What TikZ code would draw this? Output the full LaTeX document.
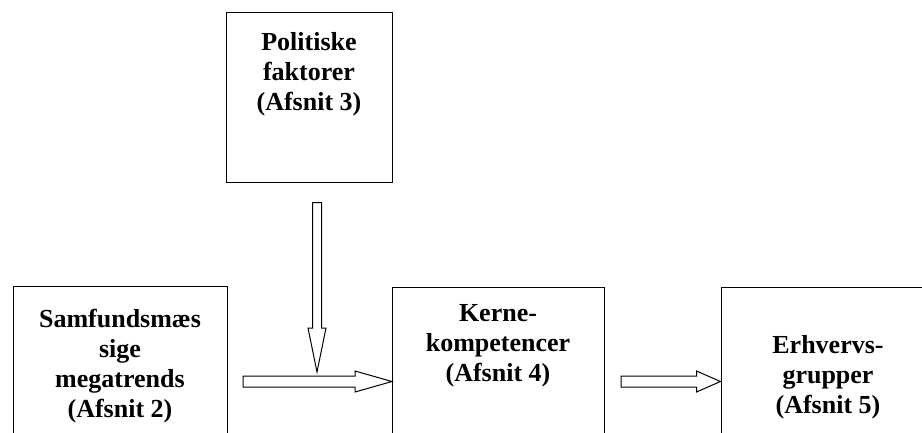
\documentclass[tikz,border=0pt]{standalone}
\usepackage{fontspec}
\setmainfont{Liberation Serif}
\usetikzlibrary{calc}

\tikzset{
  box/.style={draw, line width=1.3pt, rectangle, inner sep=0pt, anchor=north west},
  boxtext/.style={font=\bfseries\fontsize{26}{30}\selectfont, align=center, inner sep=0pt, anchor=north},
  fat/.style={draw, line width=1pt, fill=white, line join=miter}
}

% outlined block arrow: #1 tail, #2 tip, #3 half shaft width, #4 half head width, #5 head length
\newcommand\fatarrow[5]{%
  \coordinate (fahead) at ($(#2)!#5!(#1)$);
  \draw[fat] ($(#1)!#3!90:(#2)$) -- ($(fahead)!#3!90:(#2)$) -- ($(fahead)!#4!90:(#2)$)
    -- (#2) -- ($(fahead)!#4!-90:(#2)$) -- ($(fahead)!#3!-90:(#2)$)
    -- ($(#1)!#3!-90:(#2)$) -- cycle;
}

\begin{document}
\begin{tikzpicture}[x=1pt,y=-1pt]
\useasboundingbox (0,0) rectangle (922,432);
\clip (0,0) rectangle (922,432);

% boxes
\node[box, minimum width=166pt, minimum height=170pt] (pol)  at (226,12) {};
\node[box, minimum width=214pt, minimum height=200pt] (samf) at (13,286) {};
\node[box, minimum width=212pt, minimum height=200pt] (kern) at (392,287) {};
\node[box, minimum width=220pt, minimum height=200pt] (erhv) at (720.5,287) {};

% box labels
\node[boxtext] (polt)  at (309,32.5)  {Politiske\\faktorer\\(Afsnit 3)};
\node[boxtext] (samft) at (120,308.5) {Samfundsmæs\\sige\\megatrends\\(Afsnit 2)};
\node[boxtext] (kernt) at (498,304.5) {Kerne-\\kompetencer\\(Afsnit 4)};
\node[boxtext] (erhvt) at (828,335.5) {Erhvervs-\\grupper\\(Afsnit 5)};

% arrow end points
\coordinate (v1s) at (317,202.5);
\coordinate (v1t) at (317,372);
\coordinate (h1s) at (243,381.5);
\coordinate (h1t) at (kern.west |- h1s);
\coordinate (h2s) at (621,381.5);
\coordinate (h2t) at (erhv.west |- h2s);

% block arrows
\fatarrow{v1s}{v1t}{4.5pt}{9pt}{44pt}
\fatarrow{h1s}{h1t}{5.5pt}{10.5pt}{37pt}
\fatarrow{h2s}{h2t}{5.5pt}{10.5pt}{24pt}
\end{tikzpicture}
\end{document}
